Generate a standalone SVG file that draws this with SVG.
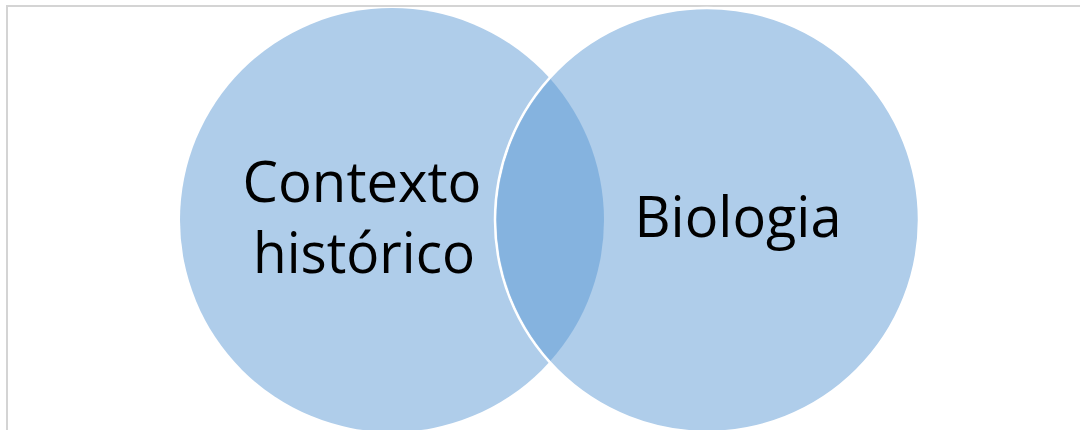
<svg xmlns="http://www.w3.org/2000/svg" width="1080" height="430" viewBox="0 0 1080 430">
<style>
.c{fill:#AFCDEA}
.lbl{font-family:"Open Sans","Noto Sans",sans-serif;font-size:57px;fill:#000;text-anchor:middle}
</style>
<defs>
<clipPath id="clipL"><circle cx="392" cy="220" r="212"/></clipPath>
</defs>
<rect width="1080" height="430" fill="#fff"/>
<rect x="7" y="6" width="1090" height="440" fill="none" stroke="#D4D4D4" stroke-width="2"/>
<g id="left"><circle class="c" cx="392" cy="220" r="212"/></g>
<g id="right"><circle class="c" cx="707" cy="220" r="212" stroke="#fff" stroke-width="2.5"/></g>
<g id="overlap"><circle cx="707" cy="220" r="210.5" fill="#85B3DF" clip-path="url(#clipL)"/></g>
<g id="labels">
<text class="lbl" x="362" y="202" textLength="239" lengthAdjust="spacingAndGlyphs">Contexto</text>
<text class="lbl" x="364" y="273" textLength="222" lengthAdjust="spacingAndGlyphs">histórico</text>
<text class="lbl" x="738" y="237" textLength="207" lengthAdjust="spacingAndGlyphs">Biologia</text>
</g>
<g id="connectors"/>
</svg>
